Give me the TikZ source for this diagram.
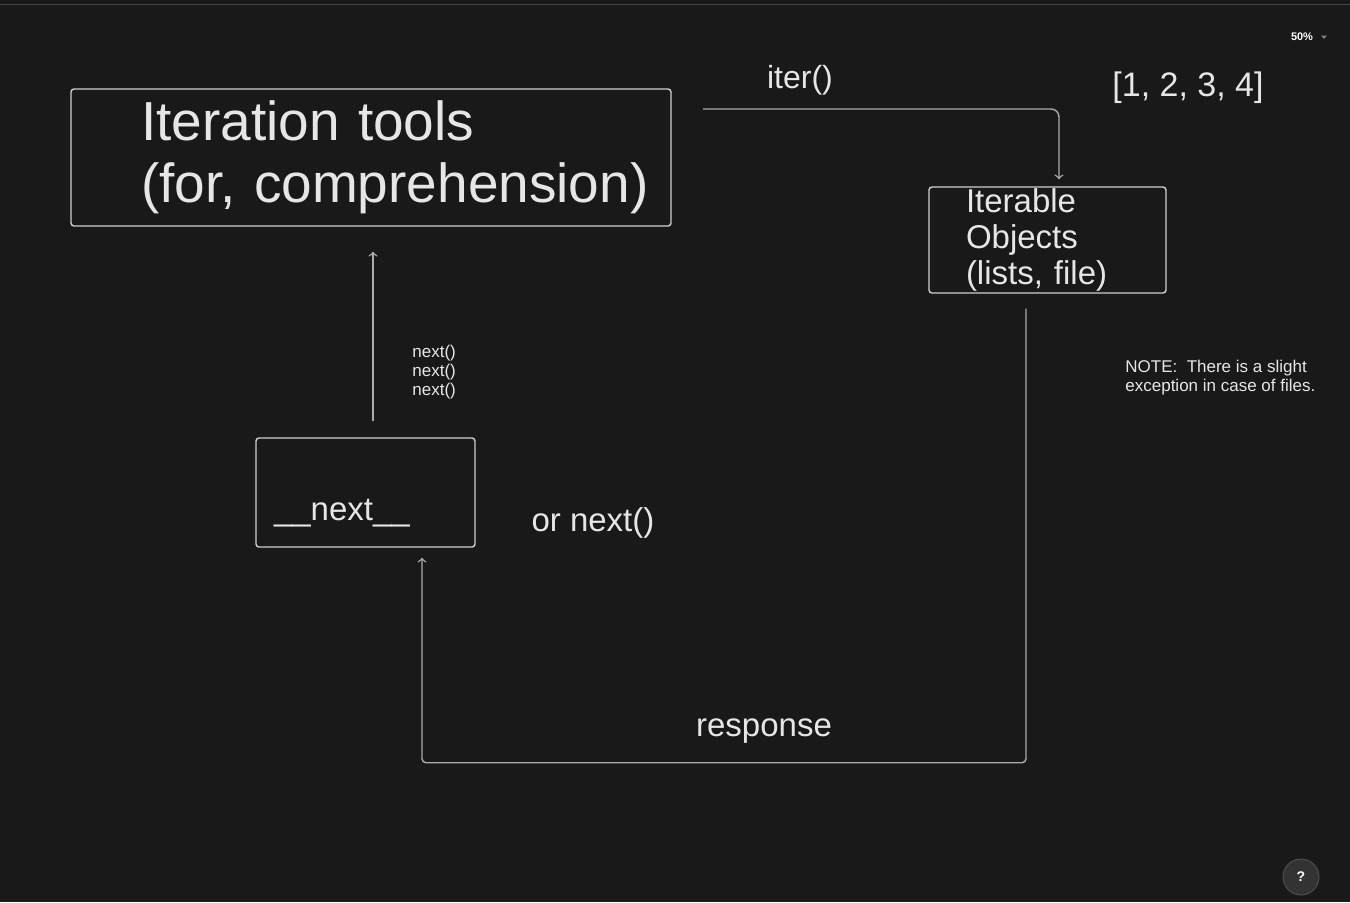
\documentclass[tikz,border=0pt]{standalone}
\usepackage{fontspec}
\setmainfont{Liberation Sans}
\usepackage{tikz}
\usetikzlibrary{arrows}

\definecolor{canvas}{HTML}{191919}
\definecolor{ink}{HTML}{E6E6E6}
\definecolor{edgegray}{HTML}{ABABAB}
\definecolor{boxgray}{HTML}{CFCFCF}
\definecolor{rulegray}{HTML}{444444}

\begin{document}
\begin{tikzpicture}[x=0.5pt,y=-0.5pt,
  main box/.style={draw=boxgray,line width=0.7pt,rounded corners=1.5pt,align=left,text=ink,inner ysep=0pt},
  main text/.style={text=ink,inner sep=0pt},
  flow/.style={->,draw=edgegray,line width=0.7pt,rounded corners=4pt}]

  \fill[canvas] (0,0) rectangle (1350,902);
  \useasboundingbox (0,0) rectangle (1350,902);
  \draw[rulegray,line width=0.5pt] (0,4) -- (1350,4);

  \node[main box,minimum width=300pt,minimum height=68.5pt,text width=230pt,inner xsep=35pt,
    font=\fontsize{27.5}{31}\selectfont] (tools) at (371,157.5) {Iteration tools\\\mbox{(for, comprehension)}};
  \node[main box,text width=81.5pt,inner xsep=18.5pt,minimum height=53pt,
    font=\fontsize{16.5}{18}\selectfont] (iterable) at (1047.5,240) {Iterable\\Objects\\(lists, file)};
  \node[main box,text width=91.5pt,inner xsep=9pt,minimum height=54.5pt,
    font=\fontsize{16.5}{18}\selectfont] (nxt) at (365.5,492.5) {\raisebox{-13.75pt}[0pt][0pt]{\_\_next\_\_}};

  \node[main text,font=\fontsize{16}{18}\selectfont] (iterlabel) at (800,80) {iter()};
  \node[main text,font=\fontsize{17}{20}\selectfont] (items) at (1188,88) {[1, 2, 3, 4]};
  \node[main text,anchor=north west,align=left,font=\fontsize{8.5}{9.5}\selectfont] (calls) at (412,344.5) {next()\\next()\\next()};
  \node[main text,anchor=north west,align=left,font=\fontsize{8.5}{9.5}\selectfont] (note) at (1125,359.5) {NOTE:\ \ There is a slight\\exception in case of files.};
  \node[main text,font=\fontsize{16.5}{18}\selectfont] (ornext) at (593,523) {or next()};
  \node[main text,font=\fontsize{16.5}{18}\selectfont] (response) at (764,731) {response};

  \coordinate (iterstart) at (703,109);
  \draw[flow] (iterstart) -| ([xshift=5.75pt,yshift=3.5pt]iterable.north);
  \draw[flow] ([xshift=3.75pt,yshift=8pt]nxt.north) -- ([xshift=3.75pt,yshift=-12.5pt]nxt.north |- tools.south);
  \draw[flow,rounded corners=2pt] ([xshift=-10.75pt,yshift=-7.5pt]iterable.south) -- ++(0,454) -| ([xshift=28.25pt,yshift=-5pt]nxt.south);

  % canvas controls
  \node[text=white,inner sep=0pt,font=\bfseries\fontsize{5.5}{6}\selectfont] (zoomlevel) at (1302,37) {50\%};
  \fill[gray] (1321,35.5) -- (1327,35.5) -- (1324,39) -- cycle;
  \node[circle,fill=black!80,draw=black!70,line width=0.5pt,minimum size=18pt,inner sep=0pt,text=white,
    font=\bfseries\fontsize{7}{8}\selectfont] (help) at (1301,877) {?};
\end{tikzpicture}
\end{document}
